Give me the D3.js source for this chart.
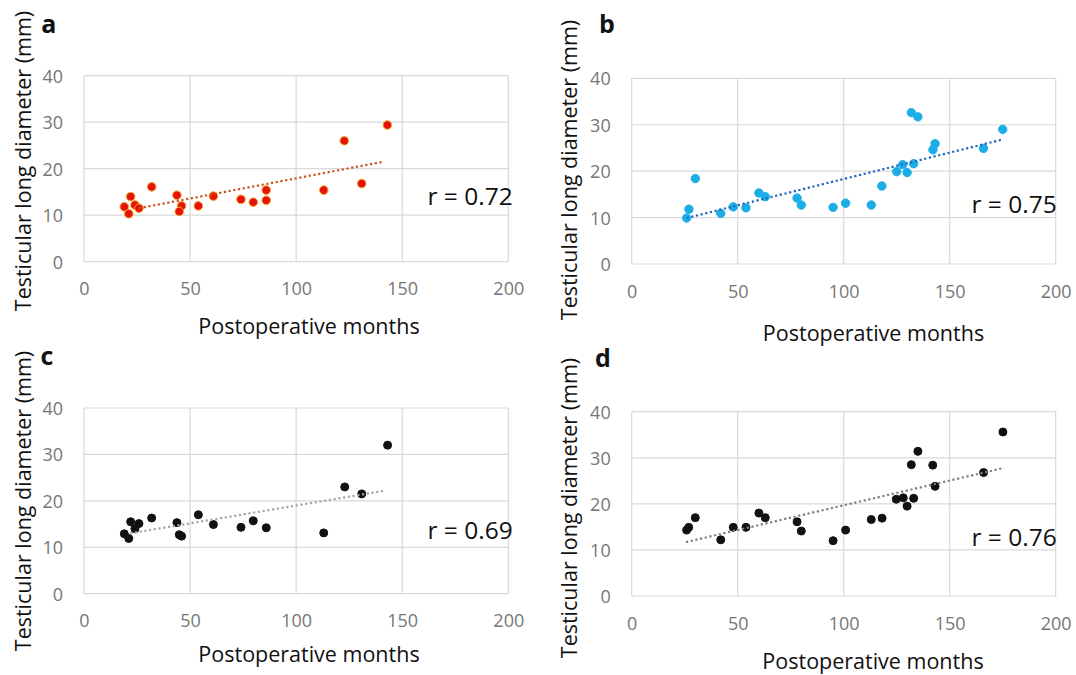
<!DOCTYPE html>
<html>
<head>
<meta charset="utf-8">
<script src="https://cdn.jsdelivr.net/npm/d3@7"></script>
<style>
  html, body { margin: 0; padding: 0; background: #fff; }
  svg { display: block; font-family: "Open Sans", "Noto Sans", sans-serif; }
</style>
</head>
<body>
<svg id="chart" width="1076" height="675"></svg>
<script>
// ---- data ----
const xTicks = [0, 50, 100, 150, 200];
const yTicks = [0, 10, 20, 30, 40];
const xTitle = "Postoperative months";
const yTitle = "Testicular long diameter (mm)";

const monthsA = [19.0, 21.1, 22.0, 24.0, 25.9, 31.9, 43.8, 46.0, 44.9, 53.9, 61.0, 74.0, 79.8, 85.9, 85.9, 113.0, 122.7, 130.9, 143.0];
const diamA   = [11.8, 10.3, 14.0, 12.2, 11.5, 16.1, 14.3, 12.0, 10.8, 12.0, 14.1, 13.4, 12.8, 15.4, 13.2, 15.4, 26.0, 16.8, 29.4];
const trendA  = [[25.9, 11.5], [141.1, 21.5]];
const rA = "r = 0.72";

const monthsB = [25.9, 27.0, 30.0, 42.0, 47.9, 53.9, 60.0, 63.0, 78.0, 80.0, 95.0, 100.9, 113.0, 118.0, 125.0, 127.8, 129.9, 133.0, 131.9, 135.0, 142.1, 143.1, 165.9, 175.0];
const diamB   = [9.9, 11.8, 18.4, 10.9, 12.3, 12.1, 15.3, 14.5, 14.2, 12.7, 12.2, 13.1, 12.7, 16.8, 19.9, 21.4, 19.7, 21.6, 32.6, 31.7, 24.6, 25.9, 24.9, 29.0];
const trendB  = [[25.9, 9.9], [174.8, 26.8]];
const rB = "r = 0.75";

const monthsC = [19.0, 21.1, 22.0, 24.0, 25.9, 31.9, 43.8, 44.9, 46.0, 53.9, 61.0, 74.0, 79.8, 85.9, 113.0, 122.9, 130.9, 143.1];
const diamC   = [12.9, 11.9, 15.5, 14.0, 15.1, 16.3, 15.3, 12.7, 12.4, 17.0, 14.9, 14.3, 15.7, 14.2, 13.1, 23.0, 21.5, 32.0];
const trendC  = [[21.7, 13.0], [141.9, 22.2]];
const rC = "r = 0.69";

const monthsD = [25.9, 26.9, 30.0, 42.0, 47.9, 53.9, 60.0, 63.0, 78.0, 80.0, 95.0, 100.9, 113.0, 118.1, 124.8, 128.1, 129.9, 133.0, 131.9, 135.0, 142.0, 143.1, 166.0, 175.1];
const diamD   = [14.3, 14.9, 17.0, 12.2, 14.9, 14.9, 18.0, 17.0, 16.1, 14.1, 12.0, 14.3, 16.6, 16.9, 21.0, 21.3, 19.5, 21.2, 28.5, 31.4, 28.4, 23.8, 26.8, 35.6];
const trendD  = [[25.6, 11.7], [175.6, 27.8]];
const rD = "r = 0.76";

const panelLetters = ["a", "b", "c", "d"];

// ---- layout & style ----
const panels = [
  { letter: panelLetters[0], xs: monthsA, ys: diamA, trend: trendA, r: rA,
    x0: 84, x1: 508.3, yb: 261.7, yt: 75.7,
    fill: "#e6120c", stroke: "#f6a623", rad: 4.3, line: "#c9531c",
    letterPos: [48.7, 33], yTitleX: 31, yTitleY: 161, xTitleX: 309, xTitleY: 334, rPos: [512.7, 205] },
  { letter: panelLetters[1], xs: monthsB, ys: diamB, trend: trendB, r: rB,
    x0: 631.7, x1: 1055.7, yb: 264, yt: 78.3,
    fill: "#1badE6", stroke: "#1badE6", rad: 4.2, line: "#1f68bd",
    letterPos: [607, 33], yTitleX: 577, yTitleY: 170, xTitleX: 873.5, xTitleY: 340.5, rPos: [1056.7, 213.3] },
  { letter: panelLetters[2], xs: monthsC, ys: diamC, trend: trendC, r: rC,
    x0: 84, x1: 508.3, yb: 593.7, yt: 408,
    fill: "#111111", stroke: "#111111", rad: 4.0, line: "#a6a6a6",
    letterPos: [47, 365], yTitleX: 31, yTitleY: 501, xTitleX: 309, xTitleY: 662, rPos: [512.7, 539] },
  { letter: panelLetters[3], xs: monthsD, ys: diamD, trend: trendD, r: rD,
    x0: 631.7, x1: 1055.7, yb: 596, yt: 411.7,
    fill: "#111111", stroke: "#111111", rad: 4.0, line: "#7f7f7f",
    letterPos: [603, 367], yTitleX: 577, yTitleY: 508, xTitleX: 873, xTitleY: 668.5, rPos: [1056.7, 546] }
];

const svg = d3.select("#chart");
const gridColor = "#d9d9d9";
const tickColor = "#767676";

panels.forEach(p => {
  const x = d3.scaleLinear().domain([xTicks[0], xTicks[xTicks.length - 1]]).range([p.x0, p.x1]);
  const y = d3.scaleLinear().domain([yTicks[0], yTicks[yTicks.length - 1]]).range([p.yb, p.yt]);
  const g = svg.append("g");

  // grid
  g.selectAll(".vg").data(xTicks).join("line")
    .attr("x1", d => x(d)).attr("x2", d => x(d))
    .attr("y1", y.range()[0]).attr("y2", y.range()[1])
    .attr("stroke", gridColor).attr("stroke-width", 1.2);
  g.selectAll(".hg").data(yTicks).join("line")
    .attr("y1", d => y(d)).attr("y2", d => y(d))
    .attr("x1", x.range()[0]).attr("x2", x.range()[1])
    .attr("stroke", gridColor).attr("stroke-width", 1.2);

  // axes (labels only, via d3 axis)
  const xa = g.append("g").attr("transform", `translate(0,${p.yb})`)
    .call(d3.axisBottom(x).tickValues(xTicks).tickSize(0).tickPadding(21));
  const ya = g.append("g").attr("transform", `translate(${p.x0},0)`)
    .call(d3.axisLeft(y).tickValues(yTicks).tickSize(0).tickPadding(21));
  [xa, ya].forEach(a => {
    a.select(".domain").remove();
    a.selectAll("text").attr("fill", tickColor).attr("font-size", 18)
      .attr("font-family", '"Open Sans", sans-serif');
  });
  ya.selectAll("text").attr("dy", "0.36em");
  xa.selectAll("text").attr("dy", "0.71em");

  // points
  g.selectAll(".pt").data(p.xs.map((v, i) => [v, p.ys[i]])).join("circle")
    .attr("cx", d => x(d[0])).attr("cy", d => y(d[1])).attr("r", p.rad)
    .attr("fill", p.fill).attr("stroke", p.stroke).attr("stroke-width", 1);

  // trend line
  g.append("path").datum(p.trend)
    .attr("d", d3.line().x(d => x(d[0])).y(d => y(d[1])))
    .attr("fill", "none").attr("stroke", p.line).attr("stroke-width", 2.2)
    .attr("stroke-dasharray", "2.2 2.6");

  // r annotation
  g.append("text").attr("x", p.rPos[0]).attr("y", p.rPos[1])
    .attr("text-anchor", "end").attr("font-size", 24.5).attr("fill", "#111")
    .text(p.r);

  // titles
  g.append("text").attr("x", p.xTitleX).attr("y", p.xTitleY)
    .attr("text-anchor", "middle").attr("font-size", 21.5).attr("fill", "#111")
    .text(xTitle);
  g.append("text")
    .attr("transform", `translate(${p.yTitleX},${p.yTitleY}) rotate(-90)`)
    .attr("text-anchor", "middle").attr("font-size", 21.5).attr("fill", "#111")
    .text(yTitle);

  // panel letter
  g.append("text").attr("x", p.letterPos[0]).attr("y", p.letterPos[1])
    .attr("text-anchor", "middle").attr("font-size", 25).attr("font-weight", "bold")
    .attr("fill", "#111").text(p.letter);
});
</script>
</body>
</html>
